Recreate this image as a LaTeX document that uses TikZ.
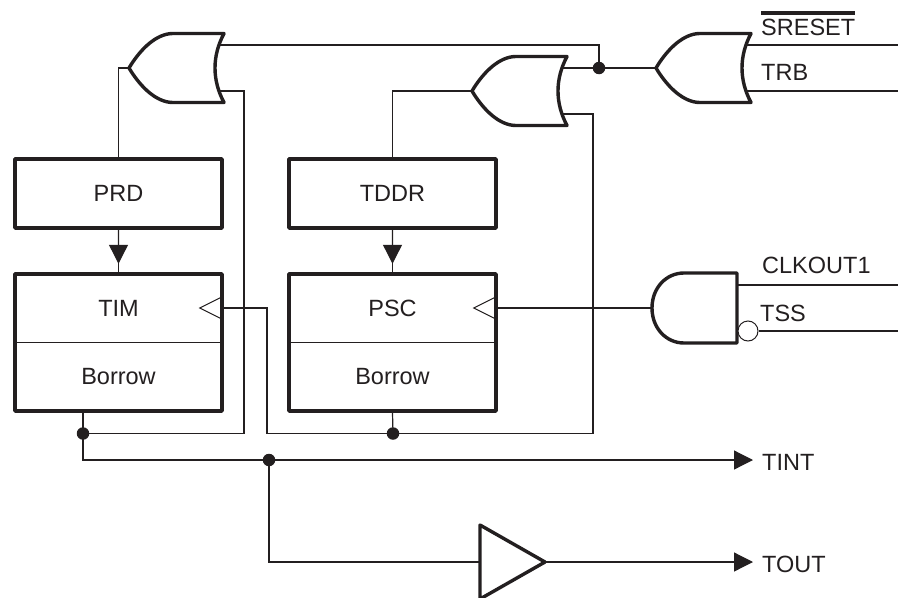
\documentclass[tikz,border=0pt]{standalone}
\usepackage{fontspec}
\setmainfont{Liberation Sans}
\usepackage{xcolor}
\usepackage{tikz}
\usetikzlibrary{arrows.meta, positioning, calc}
\definecolor{InkBlack}{RGB}{35, 31, 32}
\newcommand{\barred}[1]{\vbox{\hrule height 4pt \kern 3.5pt \hbox{#1}}}
\tikzset{
  wire/.style={draw=InkBlack, line width=1.2pt},
  flow/.style={wire, -{Triangle[length=19pt,width=19pt]}},
  gateline/.style={draw=InkBlack, fill=white, line width=3.4pt, line join=round},
  regbox/.style={gateline, minimum width=207pt, minimum height=69pt, text=InkBlack},
  cntbox/.style={regbox, minimum height=137pt},
  lbl/.style={text=InkBlack, inner sep=0pt, anchor=base},
  sig/.style={lbl, anchor=base west},
  junction/.style={circle, fill=InkBlack, inner sep=0pt, minimum size=12.5pt},
  orgate/.pic={
    \draw[gateline] (0,0) .. controls (12,-20) and (28,-34.5) .. (44,-34.5) -- (95,-34.5)
      .. controls (83,-12) and (83,12) .. (95,34.5) -- (44,34.5)
      .. controls (28,34.5) and (12,20) .. (0,0) -- cycle;
    \coordinate (-tip) at (0,0);
    \coordinate (-up) at (90,-23);
    \coordinate (-down) at (90,23);
  },
  andgate/.pic={
    \draw[gateline] (0,0) .. controls (0,-20) and (14,-35) .. (32,-35) -- (85,-35) -- (85,35) -- (32,35)
      .. controls (14,35) and (0,20) .. (0,0) -- cycle;
    \coordinate (-tip) at (0,0);
    \coordinate (-up) at (85,-23);
  },
  bufgate/.pic={
    \draw[gateline] (0,-37) -- (65,0) -- (0,37) -- cycle;
    \coordinate (-in) at (0,0);
    \coordinate (-out) at (65,0);
  },
  clockmark/.pic={
    \draw[draw=InkBlack, line width=1pt] (-2,-11) -- (-24,0) -- (-2,11);
  }
}

\begin{document}
\begin{tikzpicture}[x=1pt, y=-1pt, font=\fontsize{23.5}{27}\selectfont]
  \useasboundingbox (0,0) rectangle (899,597);

  % junctions and free ends
  \coordinate (dotA) at (599,68);
  \coordinate (dotB) at (393,433.5);
  \coordinate (dotC) at (83,433.5);
  \coordinate (dotD) at (269,460);
  \coordinate (bendL) at (244,433.5);
  \coordinate (bendM) at (593,433.5);
  \coordinate (bendT) at (267,433.5);
  \coordinate (endS) at (898,45);
  \coordinate (endT) at (898,91);
  \coordinate (endC) at (898,285);
  \coordinate (endN) at (898,331);
  \coordinate (endI) at (753,460);
  \coordinate (endO) at (753,562);

  % gates
  \pic (orL) at (129,68) {orgate};
  \pic (orM) at (472,91) {orgate};
  \pic (orR) at (656,68) {orgate};
  \pic (andC) at (652,308) {andgate};
  \pic (bufO) at (480,562) {bufgate};

  % registers and counters
  \node[regbox] (prd) at (118.5,193.5) {PRD};
  \node[regbox] (tddr) at (392.5,193.5) {TDDR};
  \node[cntbox] (tim) at (118.5,342.5) {};
  \node[cntbox] (psc) at (392.5,342.5) {};
  \draw[wire] (tim.west) -- (tim.east);
  \draw[wire] (psc.west) -- (psc.east);
  \node[lbl] (timlbl) at (118.5,316) {TIM};
  \node[lbl] (borA) at (118.5,384) {Borrow};
  \node[lbl] (psclbl) at (392.5,316) {PSC};
  \node[lbl] (borB) at (392.5,384) {Borrow};
  \coordinate (timclk) at ($(tim.east)+(0,-34.5)$);
  \coordinate (pscclk) at ($(psc.east)+(0,-34.5)$);
  \pic at (timclk) {clockmark};
  \pic at (pscclk) {clockmark};

  % gate tree
  \draw[wire] (orL-tip) -| (prd.north);
  \draw[wire] (orM-tip) -| (tddr.north);
  \draw[wire] (orL-up) -| (dotA);
  \draw[wire] (orM-up) -- (dotA) -- (orR-tip);
  \draw[wire] (orR-up) -- (endS);
  \draw[wire] (orR-down) -- (endT);
  \draw[wire] (orL-down) -| (bendL) -- (dotC);
  \draw[wire] (orM-down) -| (bendM) -- (dotB) -- (bendT) |- (timclk);

  % counters
  \coordinate (tipA) at ($(prd.south)!.8!(tim.north)$);
  \coordinate (tipB) at ($(tddr.south)!.8!(psc.north)$);
  \draw[wire] (prd.south) -- (tim.north);
  \draw[wire] (tddr.south) -- (psc.north);
  \draw[flow] (prd.south) -- (tipA);
  \draw[flow] (tddr.south) -- (tipB);
  \draw[wire] (pscclk) -- (andC-tip);
  \draw[wire] (psc.south) -- (dotB);
  \draw[wire] (tim.south -| dotC) -- (dotC);

  % outputs
  \draw[wire] (dotC) |- (dotD);
  \draw[flow] (dotD) -- (endI);
  \draw[wire] (andC-up) -- (endC);
  \node[circle, draw=InkBlack, fill=white, line width=1pt, inner sep=0pt, minimum size=20pt] (bub) at (748,331) {};
  \draw[wire] (bub) -- (endN);
  \draw[wire] (dotD) |- (bufO-in);
  \draw[flow] (bufO-out) -- (endO);

  \foreach \dotname in {dotA,dotB,dotC,dotD}
    \node[junction] at (\dotname) {};

  \node[sig] (sreset) at (761,35) {\barred{SRESET}};
  \node[sig] (trb) at (761,80) {TRB};
  \node[sig] (clkout) at (762,273) {CLKOUT1};
  \node[sig] (tss) at (760,321) {TSS};
  \node[sig] (tint) at (762,470) {TINT};
  \node[sig] (tout) at (762,572) {TOUT};
\end{tikzpicture}
\end{document}
